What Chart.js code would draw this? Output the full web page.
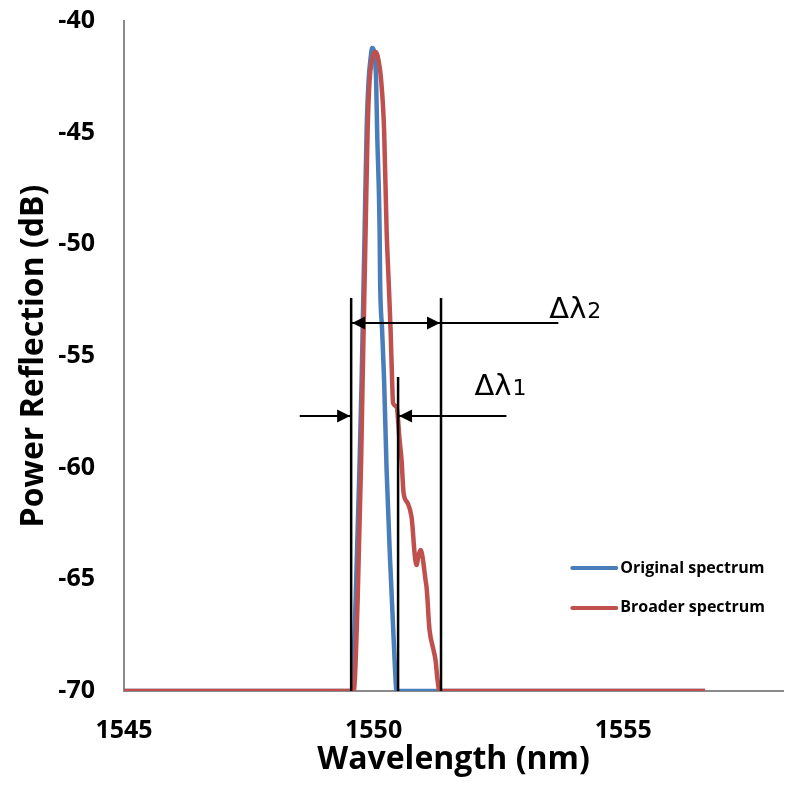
<!DOCTYPE html>
<html>
<head>
<meta charset="utf-8">
<script src="https://cdn.jsdelivr.net/npm/chart.js@4/dist/chart.umd.min.js"></script>
<style>
  html, body { margin: 0; padding: 0; background: #ffffff; }
  #wrap { width: 785px; height: 803px; }
</style>
</head>
<body>
<div id="wrap"><canvas id="chart" width="785" height="803"></canvas></div>
<script>
// Reflection spectra of the grating (wavelength in nm, power in dB)
const seriesNames = ['Original spectrum', 'Broader spectrum'];

const originalWavelength = [1545.00, 1549.56, 1549.64, 1549.72, 1549.76, 1549.80, 1549.82, 1549.86, 1549.90, 1549.94,
  1549.97, 1550.02, 1550.05, 1550.07, 1550.12, 1550.13, 1550.17, 1550.21, 1550.26, 1550.33, 1550.42, 1550.46, 1556.64];
const originalPower = [-70.00, -70.00, -65.93, -59.66, -56.08, -51.60, -49.36, -44.88, -42.64, -41.66,
  -41.21, -41.52, -42.64, -44.88, -49.36, -51.60, -53.84, -56.08, -60.10, -64.14, -68.61, -70.00, -70.00];

const broaderWavelength = [1545.00, 1549.60, 1549.68, 1549.75, 1549.78, 1549.82, 1549.84, 1549.88, 1549.92, 1549.96,
  1550.00, 1550.04, 1550.08, 1550.15, 1550.21, 1550.26, 1550.30, 1550.34, 1550.37, 1550.39, 1550.46, 1550.52, 1550.56,
  1550.60, 1550.68, 1550.76, 1550.78, 1550.82, 1550.86, 1550.90, 1550.94, 1550.98, 1551.04, 1551.06, 1551.08, 1551.10,
  1551.12, 1551.20, 1551.24, 1551.28, 1551.32, 1556.64];
const broaderPower = [-70.00, -70.00, -65.93, -59.66, -56.08, -51.60, -49.36, -44.88, -42.64, -41.84,
  -41.48, -41.39, -41.57, -42.64, -44.88, -49.36, -51.60, -53.84, -56.08, -57.11, -57.28, -58.76, -59.66,
  -61.13, -61.58, -62.21, -62.66, -63.82, -64.36, -63.91, -63.69, -64.00, -65.03, -65.34, -65.93, -66.69,
  -67.27, -68.17, -68.61, -69.51, -70.00, -70.00];

const xTicks = [1545, 1550, 1555];
const yTicks = [-40, -45, -50, -55, -60, -65, -70];

// Bandwidth markers (nm) and where their guide lines start (dB)
const edgeWavelengths = [1549.55, 1550.49, 1551.35];
const edgeTopPower = [-52.4, -55.94, -52.4];
const bandLabels = [['\u0394\u03bb', '1'], ['\u0394\u03bb', '2']];

const FONT = '"Open Sans"';
const BLUE = '#4a7ebb';
const RED = '#c0504d';

function toPoints(xs, ys) { return xs.map((x, i) => ({ x: x, y: ys[i] })); }

// Dimension arrows, guide lines, labels and the legend
const overlay = {
  id: 'overlay',
  afterDraw(chart) {
    const ctx = chart.ctx;
    const xs = chart.scales.x, ys = chart.scales.y;
    const px = v => xs.getPixelForValue(v);
    const py = v => ys.getPixelForValue(v);
    ctx.save();
    ctx.strokeStyle = '#000';
    ctx.fillStyle = '#000';

    // vertical guide lines
    ctx.lineWidth = 2.5;
    edgeWavelengths.forEach((w, i) => {
      ctx.beginPath();
      ctx.moveTo(px(w), py(edgeTopPower[i]));
      ctx.lineTo(px(w), py(-70));
      ctx.stroke();
    });

    function line(x1, y1, x2, y2) {
      ctx.lineWidth = 2;
      ctx.beginPath(); ctx.moveTo(x1, y1); ctx.lineTo(x2, y2); ctx.stroke();
    }
    function head(tipX, y, dir) {
      const len = 13, half = 6.5;
      ctx.beginPath();
      ctx.moveTo(tipX, y);
      ctx.lineTo(tipX - dir * len, y - half);
      ctx.lineTo(tipX - dir * len, y + half);
      ctx.closePath();
      ctx.fill();
    }

    // Δλ2: span between outer edges, with outward heads
    const y2 = py(-53.52);
    const a = px(edgeWavelengths[0]), c = px(edgeWavelengths[2]), b = px(edgeWavelengths[1]);
    line(a, y2, px(1553.70), y2);
    head(a + 1, y2, -1);
    head(c - 1, y2, 1);

    // Δλ1: inward arrows onto inner edges
    const y1 = py(-57.69);
    line(px(1548.52), y1, a, y1);
    head(a - 1, y1, 1);
    line(b, y1, px(1552.66), y1);
    head(b + 1, y1, -1);

    // labels
    function label(parts, x, y) {
      ctx.textBaseline = 'alphabetic';
      ctx.textAlign = 'left';
      ctx.font = '29px "DejaVu Sans"';
      ctx.fillText(parts[0], x, y);
      const w = ctx.measureText(parts[0]).width;
      ctx.font = '22px "DejaVu Sans"';
      ctx.fillText(parts[1], x + w + 1, y);
    }
    label(bandLabels[1], px(1553.52), py(-53.30));
    label(bandLabels[0], px(1552.02), py(-56.75));

    // legend
    const colors = [BLUE, RED];
    const rows = [-64.49, -66.28];
    ctx.font = 'bold 16px ' + FONT;
    ctx.textBaseline = 'middle';
    seriesNames.forEach((name, i) => {
      const y = py(rows[i]);
      ctx.strokeStyle = colors[i];
      ctx.lineWidth = 4;
      ctx.lineCap = 'round';
      ctx.beginPath(); ctx.moveTo(px(1553.98), y); ctx.lineTo(px(1554.86), y); ctx.stroke();
      ctx.fillStyle = '#000';
      ctx.fillText(name, px(1554.94), y);
    });
    ctx.restore();
  }
};

function noEdgePadding(s) {
  s.paddingTop = 0; s.paddingBottom = 0; s.paddingLeft = 0; s.paddingRight = 0;
}

function build() {
  new Chart(document.getElementById('chart'), {
    type: 'line',
    data: {
      datasets: [
        { label: seriesNames[0], data: toPoints(originalWavelength, originalPower), borderColor: BLUE,
          borderWidth: 4.5, pointRadius: 0, cubicInterpolationMode: 'monotone', fill: false, order: 1 },
        { label: seriesNames[1], data: toPoints(broaderWavelength, broaderPower), borderColor: RED,
          borderWidth: 4.5, pointRadius: 0, cubicInterpolationMode: 'monotone', fill: false, order: 0 }
      ]
    },
    options: {
      responsive: false,
      animation: false,
      devicePixelRatio: 1,
      layout: { padding: { top: 21, right: 2, left: 0, bottom: 0 } },
      plugins: { legend: { display: false }, tooltip: { enabled: false } },
      scales: {
        x: {
          type: 'linear', min: 1545, max: 1558.2,
          afterBuildTicks: s => { s.ticks = xTicks.map(v => ({ value: v })); },
          afterFit: s => { s.height = 112; noEdgePadding(s); },
          grid: { display: false, drawTicks: false },
          border: { display: true, color: '#8a8a8a', width: 2 },
          ticks: { color: '#000', padding: 25, maxRotation: 0, callback: v => String(v),
            font: { family: FONT, weight: 'bold', size: 25 } },
          title: { display: true, text: 'Wavelength (nm)', color: '#000', padding: { top: 0, bottom: 24 },
            font: { family: FONT, weight: 'bold', size: 32 } }
        },
        y: {
          type: 'linear', min: -70, max: -40,
          afterBuildTicks: s => { s.ticks = yTicks.map(v => ({ value: v })); },
          afterFit: s => { s.width = 124; noEdgePadding(s); },
          grid: { display: false, drawTicks: false },
          border: { display: true, color: '#8a8a8a', width: 2 },
          ticks: { color: '#000', padding: 29, callback: v => String(v),
            font: { family: FONT, weight: 'bold', size: 25 } },
          title: { display: true, text: 'Power Reflection (dB)', color: '#000', padding: { top: 15, bottom: 0 },
            font: { family: FONT, weight: 'bold', size: 32 } }
        }
      }
    },
    plugins: [overlay]
  });
}

Promise.all([
  document.fonts.load('bold 25px "Open Sans"'),
  document.fonts.load('bold 16px "Open Sans"'),
  document.fonts.load('29px "DejaVu Sans"')
]).then(build, build);
</script>
</body>
</html>
